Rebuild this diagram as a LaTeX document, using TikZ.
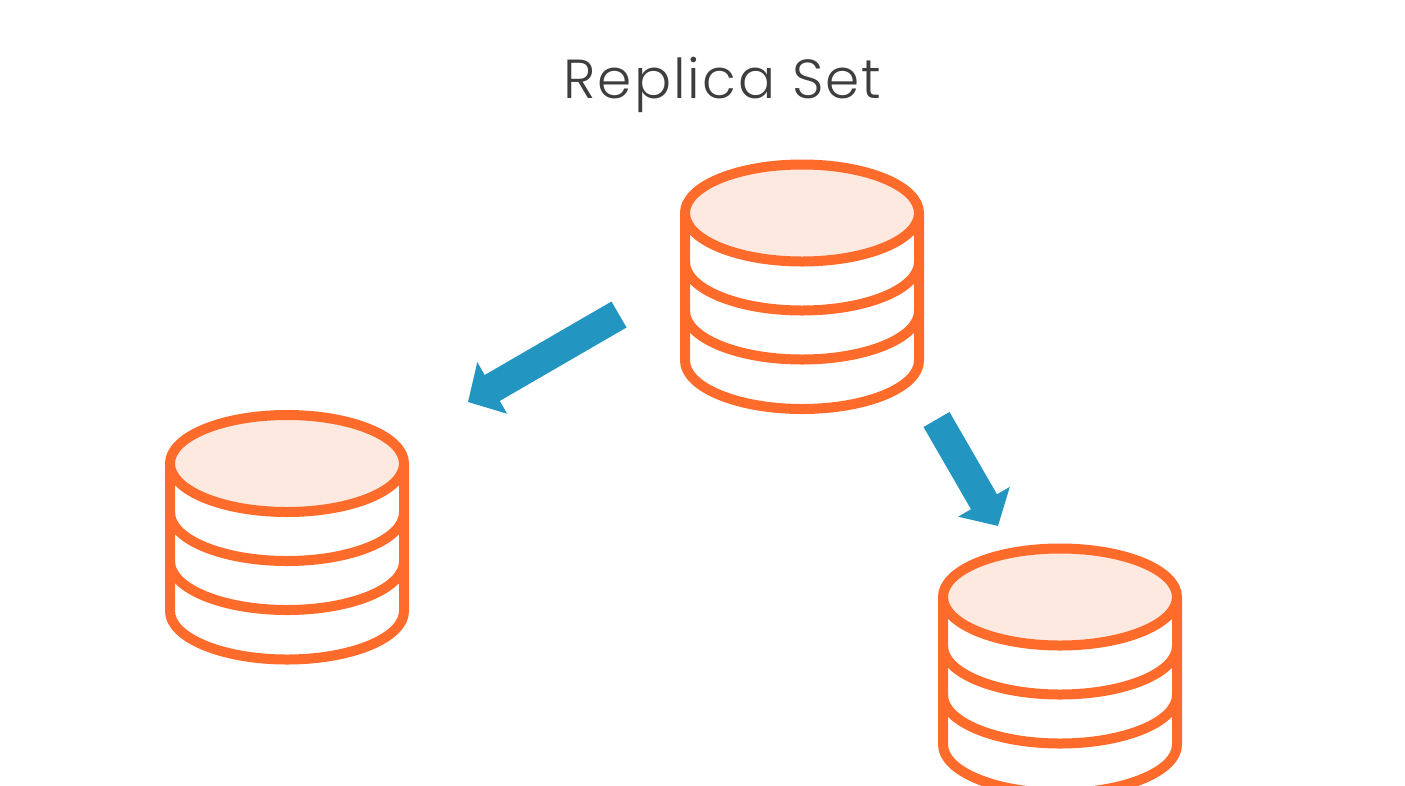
\documentclass[tikz,border=0pt]{standalone}
\usepackage{fontspec}
\setmainfont[LetterSpace=3.6]{Poppins Light}
\usetikzlibrary{arrows.meta, positioning}
\definecolor{dborange}{HTML}{FF6B2B}
\definecolor{dbtint}{HTML}{FDE9E0}
\definecolor{flowblue}{HTML}{2295C1}
\definecolor{titlegray}{HTML}{3E3E3E}
\tikzset{
  dbline/.style={draw=dborange,line width=10pt},
  flow/.style={draw=flowblue,line width=30pt,-{Triangle[length=28pt,width=58pt,color=flowblue]}},
  dbstack/.pic={
    \draw[dbline] (-117,0) -- (-117,147.5) arc[start angle=180,end angle=360,x radius=117pt,y radius=48.5pt] -- (117,0);
    \draw[dbline] (-117,49) arc[start angle=180,end angle=360,x radius=117pt,y radius=48.5pt];
    \draw[dbline] (-117,98) arc[start angle=180,end angle=360,x radius=117pt,y radius=48.5pt];
    \draw[dbline,fill=dbtint] (0,0) ellipse [x radius=117pt,y radius=48.5pt];
  }
}
\begin{document}
\begin{tikzpicture}[x=1pt,y=-1pt]
\useasboundingbox (0,0) rectangle (1405,785);
\node (title) at (722.5,98) [anchor=base,text=titlegray,font=\fontsize{55}{66}\selectfont] {Replica Set};
\coordinate (primary) at (802,213);
\coordinate (replicaL) at (287,463.5);
\coordinate (replicaR) at (1060,597);
\pic at (primary) {dbstack};
\pic at (replicaL) {dbstack};
\pic at (replicaR) {dbstack};
\coordinate (tailL) at (619,314.5);
\coordinate (tipL) at (468,402);
\coordinate (tailR) at (936.5,419.5);
\coordinate (tipR) at (998,526);
\draw[flow] (tailL) -- (tipL);
\draw[flow] (tailR) -- (tipR);
\end{tikzpicture}
\end{document}
